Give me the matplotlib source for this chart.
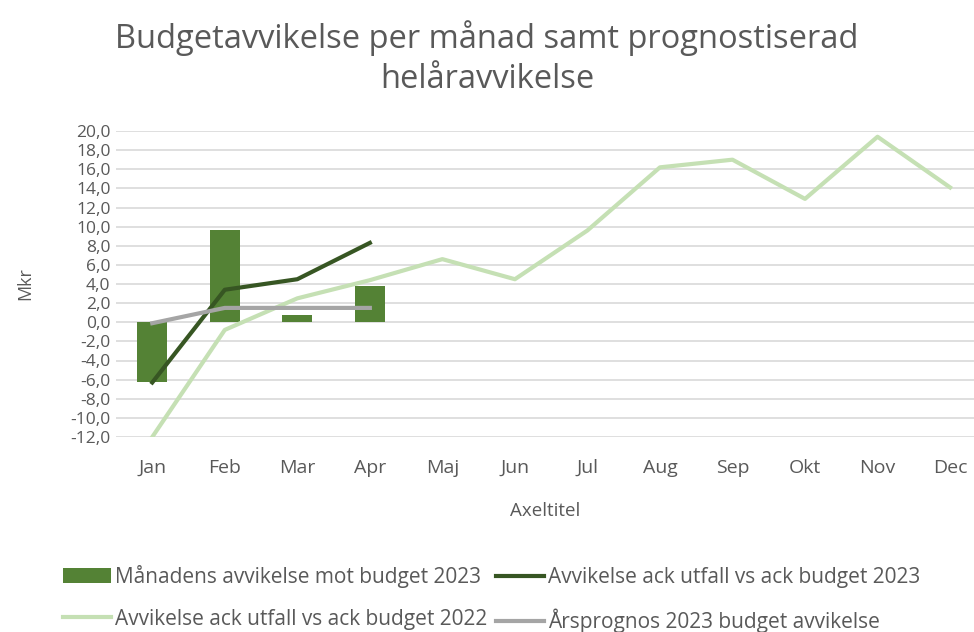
import matplotlib
matplotlib.use('Agg')
import matplotlib.pyplot as plt
from matplotlib.ticker import MultipleLocator, FuncFormatter
import numpy as np

# ---------------------------------------------------------------------------
# Data (Mkr)
# ---------------------------------------------------------------------------
months = ['Jan', 'Feb', 'Mar', 'Apr', 'Maj', 'Jun', 'Jul', 'Aug', 'Sep', 'Okt', 'Nov', 'Dec']
manad_2023 = [-6.3, 9.6, 0.8, 3.8]
ack_2023 = [-6.3, 3.4, 4.5, 8.3]
ack_2022 = [-12.0, -0.8, 2.5, 4.4, 6.6, 4.5, 9.6, 16.2, 17.0, 12.9, 19.4, 14.1]
prognos_2023 = [-0.1, 1.5, 1.5, 1.5]

labels = ['Månadens avvikelse mot budget 2023',
          'Avvikelse ack utfall vs ack budget 2023',
          'Avvikelse ack utfall vs ack budget 2022',
          'Årsprognos 2023 budget avvikelse']

plt.rcParams['font.family'] = ['Open Sans', 'DejaVu Sans']
TXT = '#595959'

fig = plt.figure(figsize=(9.74, 6.32), dpi=100)
ax = fig.add_axes([116 / 974, 1 - 437 / 632, (974 - 116) / 974, (437 - 131) / 632])

x = np.arange(len(months))
b = ax.bar(x[:len(manad_2023)], manad_2023, 0.41, color='#548235', label=labels[0], zorder=2)
l1, = ax.plot(x[:len(ack_2023)], ack_2023, color='#375623', lw=3, label=labels[1], zorder=4)
l2, = ax.plot(x, ack_2022, color='#C5E0B4', lw=3, label=labels[2], zorder=3)
l3, = ax.plot(x[:len(prognos_2023)], prognos_2023, color='#A5A5A5', lw=3, label=labels[3], zorder=5)

ax.set_xlim(-0.5, 11.33)
ax.set_ylim(-12, 20)
ax.yaxis.set_major_locator(MultipleLocator(2))
ax.yaxis.set_major_formatter(FuncFormatter(lambda v, p: f'{v:.1f}'.replace('.', ',')))
ax.set_xticks(x)
ax.set_xticklabels(months)
ax.grid(axis='y', color='#D9D9D9', lw=1.2, zorder=0)
ax.set_axisbelow(True)
for s in ax.spines.values():
    s.set_visible(False)
ax.tick_params(length=0, labelsize=12.5, colors=TXT, pad=4)
ax.tick_params(axis='x', labelsize=14, pad=16)

ax.set_ylabel('Mkr', fontsize=13, color=TXT, labelpad=26)
ax.set_xlabel('Axeltitel', fontsize=13.5, color=TXT, labelpad=18)

fig.text(0.5, 1 - 58 / 632, 'Budgetavvikelse per månad samt prognostiserad\nhelåravvikelse',
         ha='center', va='center', fontsize=23.5, color=TXT, linespacing=1.3)

# row-major order as in the original legend
fig.legend(handles=[b, l2, l1, l3], ncol=2, loc='center', bbox_to_anchor=(0.505, 1 - 599 / 632),
           frameon=False, fontsize=15, labelcolor=TXT, handlelength=2.3, handletextpad=0.2,
           columnspacing=0.4, labelspacing=1.0)

fig.savefig('out.png', dpi=100)
